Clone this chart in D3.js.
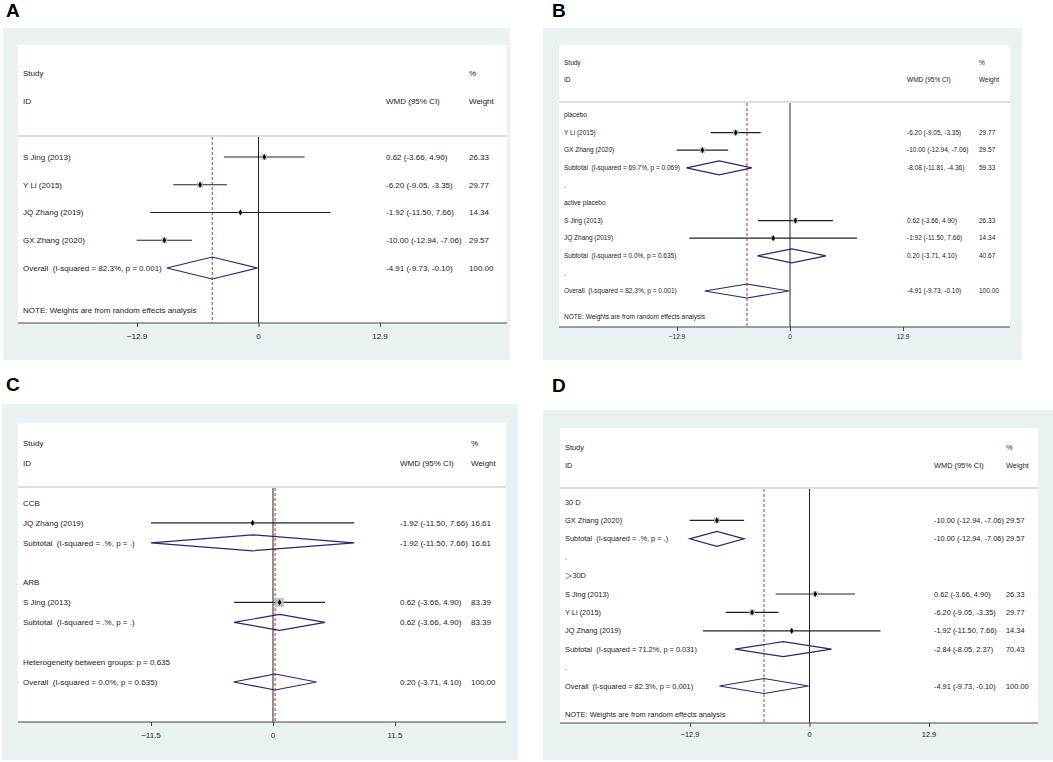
<!DOCTYPE html>
<html>
<head>
<meta charset="utf-8">
<script src="https://cdn.jsdelivr.net/npm/d3@7"></script>
<style>
  body { margin: 0; background: #fff; }
  svg { display: block; font-family: "Liberation Sans", Arial, "Noto Sans CJK SC", sans-serif; }
  text { white-space: pre; }
</style>
</head>
<body>
<svg id="chart" width="1053" height="762"></svg>
<script>
// rows of each forest plot, top to bottom
// kind: group | study | sub | dot | blank | het | overall
const rowsA = [
  { kind: "study", label: "S Jing (2013)", est: 0.62, lo: -3.66, hi: 4.90, w: 26.33 },
  { kind: "study", label: "Y Li (2015)", est: -6.20, lo: -9.05, hi: -3.35, w: 29.77 },
  { kind: "study", label: "JQ Zhang (2019)", est: -1.92, lo: -11.50, hi: 7.66, w: 14.34 },
  { kind: "study", label: "GX Zhang (2020)", est: -10.00, lo: -12.94, hi: -7.06, w: 29.57 },
  { kind: "overall", label: "Overall  (I-squared = 82.3%, p = 0.001)", est: -4.91, lo: -9.73, hi: -0.10, w: 100.00 }
];

const rowsB = [
  { kind: "group", label: "placebo" },
  { kind: "study", label: "Y Li (2015)", est: -6.20, lo: -9.05, hi: -3.35, w: 29.77 },
  { kind: "study", label: "GX Zhang (2020)", est: -10.00, lo: -12.94, hi: -7.06, w: 29.57 },
  { kind: "sub", label: "Subtotal  (I-squared = 69.7%, p = 0.069)", est: -8.08, lo: -11.81, hi: -4.36, w: 59.33 },
  { kind: "dot", label: "." },
  { kind: "group", label: "active placebo" },
  { kind: "study", label: "S Jing (2013)", est: 0.62, lo: -3.66, hi: 4.90, w: 26.33 },
  { kind: "study", label: "JQ Zhang (2019)", est: -1.92, lo: -11.50, hi: 7.66, w: 14.34 },
  { kind: "sub", label: "Subtotal  (I-squared = 0.0%, p = 0.635)", est: 0.20, lo: -3.71, hi: 4.10, w: 40.67 },
  { kind: "dot", label: "." },
  { kind: "overall", label: "Overall  (I-squared = 82.3%, p = 0.001)", est: -4.91, lo: -9.73, hi: -0.10, w: 100.00 }
];

const rowsC = [
  { kind: "group", label: "CCB" },
  { kind: "study", label: "JQ Zhang (2019)", est: -1.92, lo: -11.50, hi: 7.66, w: 16.61 },
  { kind: "sub", label: "Subtotal  (I-squared = .%, p = .)", est: -1.92, lo: -11.50, hi: 7.66, w: 16.61 },
  { kind: "blank", label: "" },
  { kind: "group", label: "ARB" },
  { kind: "study", label: "S Jing (2013)", est: 0.62, lo: -3.66, hi: 4.90, w: 83.39 },
  { kind: "sub", label: "Subtotal  (I-squared = .%, p = .)", est: 0.62, lo: -3.66, hi: 4.90, w: 83.39 },
  { kind: "blank", label: "" },
  { kind: "het", label: "Heterogeneity between groups: p = 0.635" },
  { kind: "overall", label: "Overall  (I-squared = 0.0%, p = 0.635)", est: 0.20, lo: -3.71, hi: 4.10, w: 100.00 }
];

const rowsD = [
  { kind: "group", label: "30 D" },
  { kind: "study", label: "GX Zhang (2020)", est: -10.00, lo: -12.94, hi: -7.06, w: 29.57 },
  { kind: "sub", label: "Subtotal  (I-squared = .%, p = .)", est: -10.00, lo: -12.94, hi: -7.06, w: 29.57 },
  { kind: "dot", label: "." },
  { kind: "group", label: "\uFF1E30D" },
  { kind: "study", label: "S Jing (2013)", est: 0.62, lo: -3.66, hi: 4.90, w: 26.33 },
  { kind: "study", label: "Y Li (2015)", est: -6.20, lo: -9.05, hi: -3.35, w: 29.77 },
  { kind: "study", label: "JQ Zhang (2019)", est: -1.92, lo: -11.50, hi: 7.66, w: 14.34 },
  { kind: "sub", label: "Subtotal  (I-squared = 71.2%, p = 0.031)", est: -2.84, lo: -8.05, hi: 2.37, w: 70.43 },
  { kind: "dot", label: "." },
  { kind: "overall", label: "Overall  (I-squared = 82.3%, p = 0.001)", est: -4.91, lo: -9.73, hi: -0.10, w: 100.00 }
];

const ticksA = [-12.9, 0, 12.9];
const ticksB = [-12.9, 0, 12.9];
const ticksC = [-11.5, 0, 11.5];
const ticksD = [-12.9, 0, 12.9];

const noteText = "NOTE: Weights are from random effects analysis";

const panels = [
  { letter: "A", rows: rowsA, ticks: ticksA, note: true,
    lx: 6, ly: 17, gray: [3, 28, 510, 360], white: [18, 45, 507, 323],
    headY: 136, studyY: 73, idY: 101, colLab: 23, colCi: 386, colW: 469, fs: 8,
    rowY: [157, 268], noteY: 310, range: [137, 380], tickLabY: 336, boxK: 1.1, dh: 11 },
  { letter: "B", rows: rowsB, ticks: ticksB, note: true,
    lx: 552, ly: 17, gray: [543, 28, 1022, 360], white: [559, 45, 1010, 327],
    headY: 102, studyY: 63, idY: 80, colLab: 564, colCi: 907, colW: 979, fs: 6.5,
    rowY: [115, 291], noteY: 317, range: [677, 903], tickLabY: 337, boxK: 1.05, dh: 7 },
  { letter: "C", rows: rowsC, ticks: ticksC, note: false,
    lx: 6, ly: 391, gray: [2, 404, 518, 760], white: [18, 423, 506, 722],
    headY: 487, studyY: 443, idY: 463, colLab: 23, colCi: 400, colW: 471, fs: 8,
    rowY: [503, 682], noteY: null, range: [151, 395], tickLabY: 735, boxK: 1.0, dh: 8 },
  { letter: "D", rows: rowsD, ticks: ticksD, note: true,
    lx: 552, ly: 392, gray: [543, 410, 1053, 760], white: [560, 428, 1038, 723],
    headY: 488, studyY: 447, idY: 465, colLab: 565, colCi: 934, colW: 1006, fs: 7.4,
    rowY: [502, 686], noteY: 714, range: [690, 929], tickLabY: 734, boxK: 1.05, dh: 7.5 }
];

const svg = d3.select("#chart");
const ink = "#1a1a1a";
const navy = "#27276e";

function ciText(d) {
  return `${d.est.toFixed(2)} (${d.lo.toFixed(2)}, ${d.hi.toFixed(2)})`;
}

function drawPanel(p) {
  const g = svg.append("g");
  const x = d3.scaleLinear().domain([p.ticks[0], p.ticks[p.ticks.length - 1]]).range(p.range);
  const y = d3.scaleLinear().domain([0, p.rows.length - 1]).range(p.rowY);
  const axisY = p.white[3];

  g.append("text").attr("x", p.lx).attr("y", p.ly).text(p.letter)
    .attr("font-size", 19).attr("font-weight", "bold").attr("fill", "#000");

  g.append("rect").attr("x", p.gray[0]).attr("y", p.gray[1])
    .attr("width", p.gray[2] - p.gray[0]).attr("height", p.gray[3] - p.gray[1])
    .attr("fill", "#e9f1f2");
  g.append("rect").attr("x", p.white[0]).attr("y", p.white[1])
    .attr("width", p.white[2] - p.white[0]).attr("height", p.white[3] - p.white[1])
    .attr("fill", "#fff");

  // header
  const txt = (xx, yy, s) => g.append("text").attr("x", xx).attr("y", yy).attr("dy", "0.35em")
    .attr("font-size", p.fs).attr("fill", ink).text(s);
  txt(p.colLab, p.studyY, "Study");
  txt(p.colLab, p.idY, "ID");
  txt(p.colW, p.studyY, "%");
  txt(p.colCi, p.idY, "WMD (95% CI)");
  txt(p.colW, p.idY, "Weight");
  g.append("line").attr("x1", p.white[0]).attr("x2", p.white[2])
    .attr("y1", p.headY).attr("y2", p.headY)
    .attr("stroke", "#d4d4d4").attr("stroke-width", 1.6);

  // reference lines
  const pooled = p.rows.find(r => r.kind === "overall").est;
  g.append("line").attr("x1", x(0)).attr("x2", x(0)).attr("y1", p.headY + 1).attr("y2", axisY)
    .attr("stroke", "#222").attr("stroke-width", 1);
  g.append("line").attr("x1", x(pooled)).attr("x2", x(pooled)).attr("y1", p.headY + 1).attr("y2", axisY)
    .attr("stroke", "#b8343c").attr("stroke-width", 1).attr("stroke-dasharray", "3,2");

  // axis
  const axis = g.append("g").attr("transform", `translate(0,${axisY})`)
    .call(d3.axisBottom(x).tickValues(p.ticks).tickSize(4).tickFormat(d => d === 0 ? "0" : d3.format(".1f")(d)));
  axis.select(".domain").remove();
  axis.selectAll(".tick line").attr("stroke", "#444");
  axis.selectAll(".tick text").remove();
  g.append("line").attr("x1", p.white[0]).attr("x2", p.white[2]).attr("y1", axisY).attr("y2", axisY)
    .attr("stroke", "#444").attr("stroke-width", 1.2);
  g.selectAll("text.tl").data(p.ticks).join("text").attr("class", "tl")
    .attr("x", d => x(d)).attr("y", p.tickLabY).attr("dy", "0.35em")
    .attr("text-anchor", "middle").attr("font-size", p.fs).attr("fill", ink)
    .text(d => d === 0 ? "0" : d3.format(".1f")(d));

  // rows
  p.rows.forEach((d, i) => {
    const yy = y(i);
    if (d.label) txt(p.colLab, yy, d.label);
    if (d.est === undefined) return;
    txt(p.colCi, yy, ciText(d));
    txt(p.colW, yy, d.w.toFixed(2));
    if (d.kind === "study") {
      g.append("line").attr("x1", x(d.lo)).attr("x2", x(d.hi)).attr("y1", yy).attr("y2", yy)
        .attr("stroke", "#222").attr("stroke-width", 1.2);
      const s = p.boxK * Math.sqrt(d.w);
      g.append("rect").attr("x", x(d.est) - s / 2).attr("y", yy - s / 2)
        .attr("width", s).attr("height", s).attr("fill", "#bdbdbd").attr("fill-opacity", 0.85);
      g.append("path").attr("d", d3.symbol(d3.symbolDiamond, 11)())
        .attr("transform", `translate(${x(d.est)},${yy})`).attr("fill", "#000");
    } else {
      const pts = [[x(d.lo), yy], [x(d.est), yy - p.dh], [x(d.hi), yy], [x(d.est), yy + p.dh]];
      g.append("path").attr("d", d3.line()(pts) + "Z")
        .attr("fill", "none").attr("stroke", navy).attr("stroke-width", 1.2);
    }
  });

  if (p.note) txt(p.colLab, p.noteY, noteText);
}

panels.forEach(drawPanel);
</script>
</body>
</html>
